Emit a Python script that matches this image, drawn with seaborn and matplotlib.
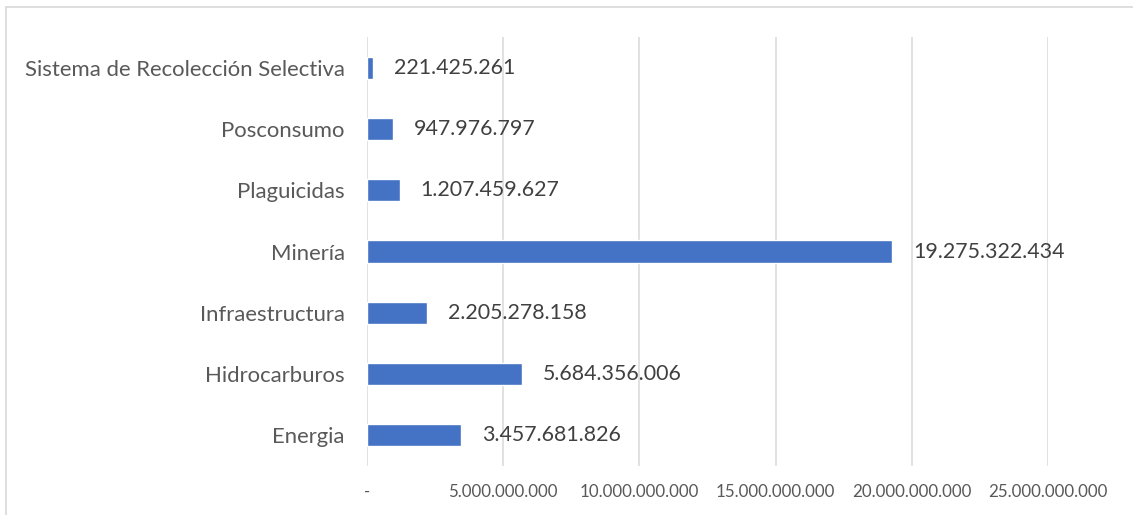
import matplotlib
matplotlib.use("Agg")
import matplotlib.pyplot as plt
import seaborn as sb
from matplotlib.lines import Line2D

# data (top to bottom)
categories = ['Sistema de Recolección Selectiva', 'Posconsumo', 'Plaguicidas',
              'Minería', 'Infraestructura', 'Hidrocarburos', 'Energia']
values = [221425261, 947976797, 1207459627, 19275322434, 2205278158, 5684356006, 3457681826]
xticks = [0, 5000000000, 10000000000, 15000000000, 20000000000, 25000000000]


def fmt(v):
    # spanish style thousands, zero shown as a dash like Excel
    if v == 0:
        return '-'
    return '{:,}'.format(int(v)).replace(',', '.')


sb.set_style('white')
plt.rcParams['font.family'] = ['Lato', 'DejaVu Sans']

fig = plt.figure(figsize=(11.33, 5.15), dpi=100)
ax = fig.add_axes([367 / 1133, 1 - 466 / 515, (1048 - 367) / 1133, (466 - 37) / 515])

sb.barplot(x=values, y=categories, orient='h', color='#4472C4', width=0.36,
           saturation=1, ax=ax)

ax.set_xlim(0, 25000000000)
ax.set_xticks(xticks)
ax.set_xticklabels([fmt(t) for t in xticks], fontsize=12.2, color='#595959')
ax.tick_params(axis='x', length=0, pad=13)
ax.tick_params(axis='y', length=0, pad=16, labelsize=15.9, labelcolor='#595959')
ax.set_xlabel('')
ax.set_ylabel('')

ax.grid(axis='x', color='#D9D9D9', linewidth=1.1)
ax.grid(axis='y', visible=False)
ax.set_axisbelow(True)
for s in ax.spines.values():
    s.set_visible(False)

ax.bar_label(ax.containers[0], labels=[fmt(v) for v in values], padding=15,
             fontsize=15.4, color='#404040')

# chart frame (cropped on right and bottom in the original)
fig.add_artist(Line2D([6 / 1133, 1], [1 - 7 / 515, 1 - 7 / 515], color='#D9D9D9', lw=1.2,
                      transform=fig.transFigure))
fig.add_artist(Line2D([6 / 1133, 6 / 1133], [0, 1 - 7 / 515], color='#D9D9D9', lw=1.2,
                      transform=fig.transFigure))

fig.savefig('out.png', dpi=100)
